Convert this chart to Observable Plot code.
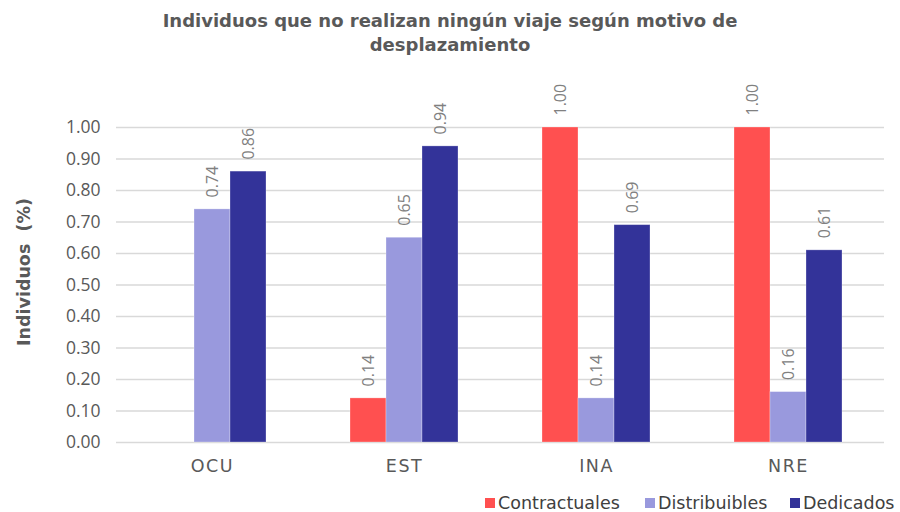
<!DOCTYPE html>
<html>
<head>
<meta charset="utf-8">
<script src="https://cdn.jsdelivr.net/npm/d3@7"></script>
<script src="https://cdn.jsdelivr.net/npm/@observablehq/plot@0.6"></script>
<style>
  html, body { margin: 0; padding: 0; background: #fff; }
  #wrap { position: relative; width: 900px; height: 512px; overflow: hidden; }
  #title { position: absolute; left: 0; top: 9px; width: 900px; text-align: center;
    font-family: "DejaVu Sans", sans-serif; font-weight: 700; font-size: 18px; line-height: 24px; color: #595959; }
  #ylabel { position: absolute; left: 24px; top: 272px; transform: translate(-50%, -50%) rotate(-90deg);
    font-family: "DejaVu Sans", sans-serif; font-weight: 700; font-size: 17.5px; color: #595959; white-space: pre; }
  #chart { position: absolute; left: 0; top: 60px; }
  #chart g[aria-label="fx-axis tick label"] text { letter-spacing: 1.5px; }
  .item { position: absolute; top: 491px; font-family: "DejaVu Sans", sans-serif;
    font-size: 17.5px; color: #404040; white-space: nowrap; line-height: 24px; }
  .sw { display: inline-block; width: 10px; height: 10px; margin-right: 3px; vertical-align: 1px; }
</style>
</head>
<body>
<div id="wrap">
  <div id="title">Individuos que no realizan ningún viaje según motivo de<br>desplazamiento</div>
  <div id="ylabel">Individuos  (%)</div>
  <div id="chart"></div>
</div>
<script>
const categories = ["OCU", "EST", "INA", "NRE"];
const series = ["Contractuales", "Distribuibles", "Dedicados"];
const contractuales = [0.00, 0.14, 1.00, 1.00];
const distribuibles = [0.74, 0.65, 0.14, 0.16];
const dedicados = [0.86, 0.94, 0.69, 0.61];
const yTicks = [0, 0.1, 0.2, 0.3, 0.4, 0.5, 0.6, 0.7, 0.8, 0.9, 1.0];
const colors = ["#FF5050", "#9999DD", "#333399"];

const valuesBySeries = [contractuales, distribuibles, dedicados];
const data = [];
categories.forEach((c, i) => {
  series.forEach((s, j) => {
    data.push({cat: c, series: s, value: valuesBySeries[j][i]});
  });
});

const chart = Plot.plot({
  width: 900,
  height: 425,
  marginTop: 67,
  marginBottom: 43,
  marginLeft: 115,
  marginRight: 15,
  style: {fontFamily: "Open Sans, sans-serif", background: "transparent"},
  fx: {domain: categories, paddingInner: 0, paddingOuter: 0, label: null, axis: null},
  x: {domain: series, paddingInner: 0, paddingOuter: 1.1, axis: null},
  y: {domain: [0, 1], ticks: yTicks, axis: null},
  color: {domain: series, range: colors},
  marks: [
    Plot.gridY(yTicks, {stroke: "#d9d9d9", strokeOpacity: 1, strokeWidth: 1.3}),
    Plot.barY(data, {fx: "cat", x: "series", y: "value", fill: "series", stroke: "#ffffff", strokeOpacity: 0.35, strokeWidth: 0.8}),
    Plot.text(data.filter(d => d.value > 0), {
      fx: "cat", x: "series", y: "value",
      text: d => d.value.toFixed(2),
      rotate: -90, textAnchor: "start", dy: -12,
      fill: "#808080", fontSize: 16, fontFamily: "Open Sans, sans-serif"
    }),
    Plot.axisFx({anchor: "bottom", tickSize: 0, tickPadding: 17, fontSize: 17.5, color: "#595959", label: null,
      fontFamily: "DejaVu Sans, sans-serif"}),
    Plot.axisY(yTicks, {anchor: "left", tickSize: 0, tickPadding: 16, tickFormat: d3.format(".2f"),
      fontSize: 17.5, color: "#595959", label: null, fontFamily: "Open Sans, sans-serif"})
  ]
});
document.getElementById("chart").appendChild(chart);

const legendX = [485, 645, 790];
const wrap = document.getElementById("wrap");
series.forEach((s, j) => {
  const item = document.createElement("div");
  item.className = "item";
  item.style.left = legendX[j] + "px";
  const sw = document.createElement("span");
  sw.className = "sw";
  sw.style.background = colors[j];
  item.appendChild(sw);
  item.appendChild(document.createTextNode(s));
  wrap.appendChild(item);
});
</script>
</body>
</html>
